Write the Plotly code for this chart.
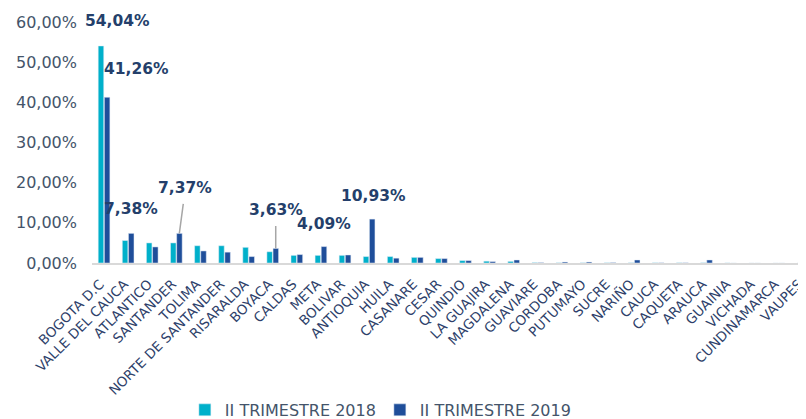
import plotly.graph_objects as go

categories = ["BOGOTA D.C", "VALLE DEL CAUCA", "ATLANTICO", "SANTANDER", "TOLIMA",
              "NORTE DE SANTANDER", "RISARALDA", "BOYACA", "CALDAS", "META", "BOLIVAR",
              "ANTIOQUIA", "HUILA", "CASANARE", "CESAR", "QUINDIO", "LA GUAJIRA",
              "MAGDALENA", "GUAVIARE", "CORDOBA", "PUTUMAYO", "SUCRE", "NARIÑO", "CAUCA",
              "CAQUETA", "ARAUCA", "GUAINIA", "VICHADA", "CUNDINAMARCA", "VAUPES"]
series_names = ["II TRIMESTRE 2018", "II TRIMESTRE 2019"]
values_2018 = [54.04, 5.6, 5.0, 5.0, 4.3, 4.3, 3.9, 2.8, 1.9, 1.9, 1.9, 1.6, 1.6, 1.4, 1.1,
               0.6, 0.45, 0.4, 0.1, 0.05, 0.05, 0.05, 0.05, 0.05, 0.05, 0.05, 0.02, 0.0, 0.0, 0.0]
values_2019 = [41.26, 7.38, 4.0, 7.37, 3.0, 2.7, 1.6, 3.63, 2.1, 4.09, 2.0, 10.93, 1.2, 1.4, 1.1,
               0.6, 0.35, 0.75, 0.1, 0.25, 0.25, 0.1, 0.75, 0.05, 0.05, 0.75, 0.0, 0.0, 0.0, 0.0]
y_ticks = [0, 10, 20, 30, 40, 50, 60]

# labelled bars: (series index, category)
labelled = [(0, "BOGOTA D.C"), (1, "BOGOTA D.C"), (1, "VALLE DEL CAUCA"), (1, "SANTANDER"),
            (1, "BOYACA"), (1, "META"), (1, "ANTIOQUIA")]

FONT = "DejaVu Sans"
C18 = "#00B0CA"
C19 = "#1F4E9A"
TXT = "#44546A"
LBL = "#243F6B"


def fmt(v):
    return f"{v:.2f}".replace(".", ",") + "%"


fig = go.Figure()
fig.add_bar(x=categories, y=values_2018, name=series_names[0], marker_color=C18)
fig.add_bar(x=categories, y=values_2019, name=series_names[1], marker_color=C19)

# label placement (pixel offsets from bar top)
placement = {
    (0, "BOGOTA D.C"): dict(xshift=13, yshift=25),
    (1, "BOGOTA D.C"): dict(xshift=32, yshift=28),
    (1, "VALLE DEL CAUCA"): dict(xshift=3, yshift=24),
    (1, "SANTANDER"): dict(arrow=True, xshift=3, ax=6, ay=-45),
    (1, "BOYACA"): dict(arrow=True, xshift=3, ax=0, ay=-38),
    (1, "META"): dict(xshift=3, yshift=23),
    (1, "ANTIOQUIA"): dict(xshift=4, yshift=23),
}
series_vals = [values_2018, values_2019]
for key in labelled:
    s, cat = key
    v = series_vals[s][categories.index(cat)]
    p = placement[key]
    lf = dict(family=FONT, size=15.5, color=LBL, weight="bold")
    if p.get("arrow"):
        fig.add_annotation(x=cat, y=v, text=fmt(v), showarrow=True, arrowhead=0,
                           arrowwidth=1.5, arrowcolor="#A6A6A6", ax=p["ax"], ay=p["ay"],
                           xshift=p["xshift"], startstandoff=5, font=lf)
    else:
        fig.add_annotation(x=cat, y=v, text=fmt(v), showarrow=False,
                           xshift=p["xshift"], yshift=p["yshift"], font=lf)

# the page body adds an 8px margin, so the figure is drawn 8px smaller
fig.update_layout(
    width=798, height=411,
    margin=dict(l=84, r=0, t=14, b=156, autoexpand=False),
    paper_bgcolor="white", plot_bgcolor="white",
    barmode="group", bargap=0.49, bargroupgap=0.1,
    font=dict(family=FONT, color=TXT),
    showlegend=True,
    legend=dict(orientation="h", xref="container", yref="container",
                x=0.466, xanchor="center", y=0.022, yanchor="middle",
                font=dict(family=FONT, size=16, color=TXT),
                itemwidth=30, tracegroupgap=0,
                entrywidth=150, entrywidthmode="pixels"),
)
fig.update_xaxes(
    type="category", range=[-0.5, 29.13], automargin=False,
    showline=True, linecolor="#D9D9D9", linewidth=2,
    showgrid=False, ticks="", tickangle=-45,
    ticklabelstandoff=6, ticklabelshift=-4,
    tickfont=dict(family=FONT, size=13.5, color="#2E3F6A"),
)
fig.update_yaxes(
    range=[0, 60], tickvals=y_ticks, ticktext=[fmt(t) for t in y_ticks],
    automargin=False,
    showgrid=False, zeroline=False, showline=False, ticks="",
    ticklabelstandoff=14,
    tickfont=dict(family=FONT, size=16, color=TXT),
)

fig.write_html("out.html")
